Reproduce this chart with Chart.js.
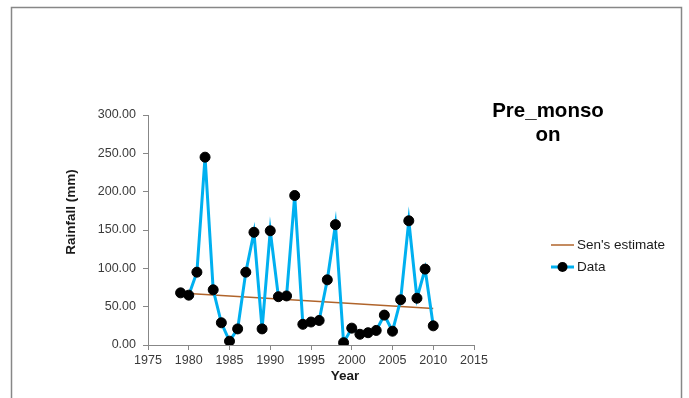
<!DOCTYPE html>
<html>
<head>
<meta charset="utf-8">
<title>Pre_monsoon rainfall</title>
<script src="https://cdn.jsdelivr.net/npm/chart.js@4.4.1/dist/chart.umd.min.js"></script>
<style>
  html, body { margin: 0; padding: 0; background: #ffffff; }
  #wrap { width: 689px; height: 398px; }
</style>
</head>
<body>
<div id="wrap"><canvas id="chart" width="689" height="398"></canvas></div>
<script>
// Observation years and pre-monsoon rainfall totals (mm)
const years = [1979, 1980, 1981, 1982, 1983, 1984, 1985, 1986, 1987, 1988, 1989,
               1990, 1991, 1992, 1993, 1994, 1995, 1996, 1997, 1998, 1999,
               2000, 2001, 2002, 2003, 2004, 2005, 2006, 2007, 2008, 2009, 2010];
const rainfall = [68, 65, 95, 245, 72, 29, 5, 21, 95, 147, 21,
                  149, 63, 64, 195, 27, 30, 32, 85, 157, 3,
                  22, 14, 16, 19, 39, 18, 59, 162, 61, 99, 25];

// Sen's slope trend line end points
const senYears = [1980, 2010];
const senValues = [67.2, 47.6];

// Axis ticks
const xTicks = [1975, 1980, 1985, 1990, 1995, 2000, 2005, 2010, 2015];
const yTicks = [0, 50, 100, 150, 200, 250, 300];

const chartTitle = ['Pre_monso', 'on'];
const xTitle = 'Year';
const yTitle = 'Rainfall (mm)';
const seriesNames = ["Sen's estimate", 'Data'];

const FONT = '"Liberation Sans", Arial, Helvetica, sans-serif';
const AXIS_GREY = '#878787';
const TEXT_GREY = '#3a3a3a';
const BLUE = '#00b0f0';
const BROWN = '#b0642b';

const toPoints = (xs, ys) => xs.map((x, i) => ({ x: x, y: ys[i] }));

// Outer frame, titles and legend drawn onto the same canvas
const decorations = {
  id: 'decorations',
  beforeDraw(chart) {
    const ctx = chart.ctx;
    ctx.save();
    ctx.fillStyle = '#ffffff';
    ctx.fillRect(0, 0, chart.width, chart.height);
    ctx.strokeStyle = AXIS_GREY;
    ctx.lineWidth = 1.5;
    ctx.beginPath();
    ctx.moveTo(11.5, chart.height + 2);
    ctx.lineTo(11.5, 7.5);
    ctx.lineTo(681.5, 7.5);
    ctx.lineTo(681.5, chart.height + 2);
    ctx.stroke();
    ctx.restore();
  },
  beforeDatasetsDraw(chart) {
    chart.ctx.miterLimit = 10;
  },
  afterDraw(chart) {
    const ctx = chart.ctx;
    ctx.save();

    // Chart title
    ctx.fillStyle = '#000000';
    ctx.font = 'bold 20.5px ' + FONT;
    ctx.textAlign = 'center';
    ctx.textBaseline = 'alphabetic';
    ctx.fillText(chartTitle[0], 548, 117);
    ctx.fillText(chartTitle[1], 548, 140.5);

    // Axis titles
    ctx.fillStyle = '#1a1a1a';
    ctx.font = 'bold 13.5px ' + FONT;
    ctx.textBaseline = 'middle';
    ctx.fillText(xTitle, 345, 376.5);
    ctx.save();
    ctx.translate(71, 212);
    ctx.rotate(-Math.PI / 2);
    ctx.fillText(yTitle, 0, 0);
    ctx.restore();

    // Legend
    const ds = chart.data.datasets;
    const lx0 = 551, lx1 = 574, tx = 577;
    const rows = [245, 267];
    ctx.font = '13.5px ' + FONT;
    ctx.textAlign = 'left';
    ctx.textBaseline = 'middle';
    [1, 0].forEach((dIdx, r) => {
      const d = ds[dIdx];
      const y = rows[r];
      ctx.strokeStyle = d.borderColor;
      ctx.lineWidth = d.borderWidth;
      ctx.beginPath();
      ctx.moveTo(lx0, y);
      ctx.lineTo(lx1, y);
      ctx.stroke();
      if (d.pointRadius > 0) {
        ctx.fillStyle = d.pointBackgroundColor;
        ctx.beginPath();
        ctx.arc((lx0 + lx1) / 2, y, d.pointRadius, 0, Math.PI * 2);
        ctx.fill();
      }
      ctx.fillStyle = '#1a1a1a';
      ctx.fillText(d.label, tx, y + 0.5);
    });
    ctx.restore();
  }
};

new Chart(document.getElementById('chart'), {
  type: 'scatter',
  data: {
    datasets: [
      {
        label: seriesNames[1],
        data: toPoints(years, rainfall),
        showLine: true,
        borderColor: BLUE,
        borderWidth: 3,
        borderJoinStyle: 'miter',
        pointRadius: 5,
        pointBorderWidth: 1,
        pointBackgroundColor: '#000000',
        pointBorderColor: '#000000',
        pointHoverRadius: 5,
        tension: 0,
        order: 1
      },
      {
        label: seriesNames[0],
        data: toPoints(senYears, senValues),
        showLine: true,
        borderColor: BROWN,
        borderWidth: 1.5,
        pointRadius: 0,
        pointHoverRadius: 0,
        tension: 0,
        order: 2
      }
    ]
  },
  options: {
    responsive: false,
    animation: false,
    events: [],
    layout: { padding: { left: 0, top: 115, right: 215, bottom: 0 } },
    plugins: {
      legend: { display: false },
      tooltip: { enabled: false },
      title: { display: false }
    },
    scales: {
      x: {
        type: 'linear',
        min: xTicks[0],
        max: xTicks[xTicks.length - 1],
        afterBuildTicks(scale) { scale.ticks = xTicks.map(v => ({ value: v })); },
        afterFit(scale) { scale.height = 53; },
        border: { display: true, color: AXIS_GREY, width: 1 },
        grid: { drawOnChartArea: false, drawTicks: true, tickLength: 5, color: AXIS_GREY },
        ticks: {
          padding: 3,
          color: TEXT_GREY,
          font: { family: FONT, size: 12.5 },
          maxRotation: 0,
          autoSkip: false,
          callback: v => String(v)
        }
      },
      y: {
        type: 'linear',
        min: yTicks[0],
        max: yTicks[yTicks.length - 1],
        afterBuildTicks(scale) { scale.ticks = yTicks.map(v => ({ value: v })); },
        afterFit(scale) { scale.width = 148; },
        border: { display: true, color: AXIS_GREY, width: 1 },
        grid: { drawOnChartArea: false, drawTicks: true, tickLength: 5, color: AXIS_GREY },
        ticks: {
          padding: 7,
          color: TEXT_GREY,
          font: { family: FONT, size: 12.5 },
          autoSkip: false,
          callback: v => Number(v).toFixed(2)
        }
      }
    }
  },
  plugins: [decorations]
});
</script>
</body>
</html>
